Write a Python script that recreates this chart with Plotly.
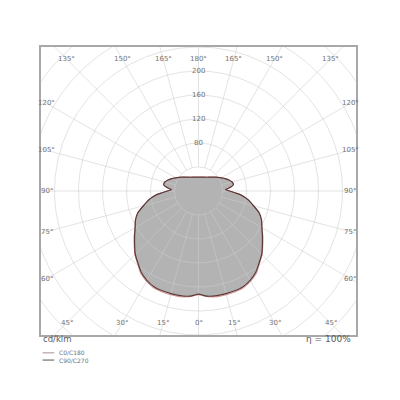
import numpy as np
import plotly.graph_objects as go

# Lichtstärkeverteilung (cd/klm), symmetrisch links/rechts
gamma = [0, 5, 10, 15, 20, 25, 30, 35, 40, 45, 50, 55, 60, 65, 70, 75, 80, 85, 87,
         90, 93, 96, 100, 105, 110, 115, 120, 130, 140, 150, 160, 170, 180]
c90_c270 = [172, 176, 177, 177, 177, 176, 172, 166, 157, 149, 139, 130, 122, 116, 108,
            95, 84, 70, 62, 52, 45, 52, 59, 58, 54, 49, 44, 36, 30, 26.5, 24.5, 23.5, 23]
c0_c180 = [173, 177, 179, 179, 179, 178, 174, 168, 158, 150, 140, 131, 122, 116, 108,
           95, 84, 70, 62, 52, 45, 52, 59, 58, 54, 49, 44, 36, 30, 26.5, 24.5, 23.5, 23]

grid_radii = [40, 80, 120, 160, 200, 240, 280, 320, 360]
radial_labels = [80, 120, 160, 200]
top_labels = [135, 150, 165, 180, 165, 150, 135]
bottom_labels = [45, 30, 15, 0, 15, 30, 45]
side_labels = [60, 75, 90, 105, 120]

GRID = "rgba(204,204,204,0.55)"
TXT = "#737373"
FONT = "DejaVu Sans"


def closed_curve(values):
    g = np.radians(gamma)
    r = np.array(values, dtype=float)
    # rechte Hälfte 0..180, linke Hälfte 180..0
    x = np.concatenate([r * np.sin(g), (-r * np.sin(g))[::-1]])
    y = np.concatenate([-r * np.cos(g), (-r * np.cos(g))[::-1]])
    return x, y


fig = go.Figure()

# Fläche
fx, fy = closed_curve(c90_c270)
fig.add_trace(go.Scatter(x=fx, y=fy, fill="toself", fillcolor="#b3b3b3",
                         line=dict(width=0, shape="spline", smoothing=0.4),
                         mode="lines", hoverinfo="skip"))

# Gitter: Kreise
t = np.linspace(0, 2 * np.pi, 361)
for rad in grid_radii:
    fig.add_trace(go.Scatter(x=rad * np.cos(t), y=rad * np.sin(t), mode="lines",
                             line=dict(color=GRID, width=1), hoverinfo="skip"))

# Gitter: Strahlen alle 15°
for a in range(0, 360, 15):
    ar = np.radians(a)
    fig.add_trace(go.Scatter(x=[40 * np.sin(ar), 400 * np.sin(ar)],
                             y=[-40 * np.cos(ar), -400 * np.cos(ar)], mode="lines",
                             line=dict(color=GRID, width=1), hoverinfo="skip"))

# Kurven
x0, y0 = closed_curve(c0_c180)
fig.add_trace(go.Scatter(x=x0, y=y0, mode="lines",
                         line=dict(color="#c86a6a", width=0.8, shape="spline", smoothing=0.4),
                         hoverinfo="skip"))
x1, y1 = closed_curve(c90_c270)
fig.add_trace(go.Scatter(x=x1, y=y1, mode="lines",
                         line=dict(color="#5a3838", width=1.2, shape="spline", smoothing=0.4),
                         hoverinfo="skip"))

annotations = []
for v in radial_labels:
    annotations.append(dict(x=0, y=v, text=str(v), showarrow=False,
                            font=dict(size=7, color=TXT, family=FONT)))

# Winkelbeschriftung auf innerem Rechteck
W, H = 253, 220


def label_pos(a):
    ar = np.radians(a)
    dx, dy = np.sin(ar), -np.cos(ar)
    s = min(W / abs(dx) if abs(dx) > 1e-9 else 1e9, H / abs(dy) if abs(dy) > 1e-9 else 1e9)
    return dx * s, dy * s


for row in (top_labels, bottom_labels):
    for i, a in enumerate(row):
        sign = -1 if i < 3 else 1
        x, y = label_pos(a)
        annotations.append(dict(x=sign * abs(x), y=y, text=f"{a}°", showarrow=False,
                                font=dict(size=7, color=TXT, family=FONT)))
for a in side_labels:
    x, y = label_pos(a)
    for sign in (-1, 1):
        annotations.append(dict(x=sign * abs(x), y=y, text=f"{a}°", showarrow=False,
                                font=dict(size=7, color=TXT, family=FONT)))

annotations.append(dict(x=0, y=-0.014, xref="paper", yref="paper", text="cd/klm",
                        showarrow=False, xanchor="left", yanchor="middle",
                        font=dict(size=8.5, color="#5a5a5a", family=FONT)))
annotations.append(dict(x=0.99, y=-0.014, xref="paper", yref="paper", text="η = 100%",
                        showarrow=False, xanchor="right", yanchor="middle",
                        font=dict(size=9, color="#5a5a5a", family=FONT)))

legend_items = [("C0/C180", "#a89090"), ("C90/C270", "#555555")]
shapes = []
for i, (name, col) in enumerate(legend_items):
    yy = -0.062 - i * 0.025
    shapes.append(dict(type="line", xref="paper", yref="paper", x0=0.005, x1=0.042,
                       y0=yy, y1=yy, line=dict(color=col, width=1)))
    annotations.append(dict(x=0.05, y=yy, xref="paper", yref="paper", text=name,
                            showarrow=False, xanchor="left", yanchor="middle",
                            font=dict(size=6, color=TXT, family=FONT)))

fig.update_layout(
    width=400, height=400,
    margin=dict(l=33, r=52, t=39, b=73),
    paper_bgcolor="white", plot_bgcolor="white",
    showlegend=False,
    annotations=annotations, shapes=shapes,
    xaxis=dict(range=[-262.5, 262.5], showgrid=False, zeroline=False, showticklabels=False,
               showline=True, mirror=True, linecolor="#a8a8a8", linewidth=1.5, ticks=""),
    yaxis=dict(range=[-240, 240], showgrid=False, zeroline=False, showticklabels=False,
               showline=True, mirror=True, linecolor="#a8a8a8", linewidth=1.5, ticks=""),
)

fig.write_html("out.html")
